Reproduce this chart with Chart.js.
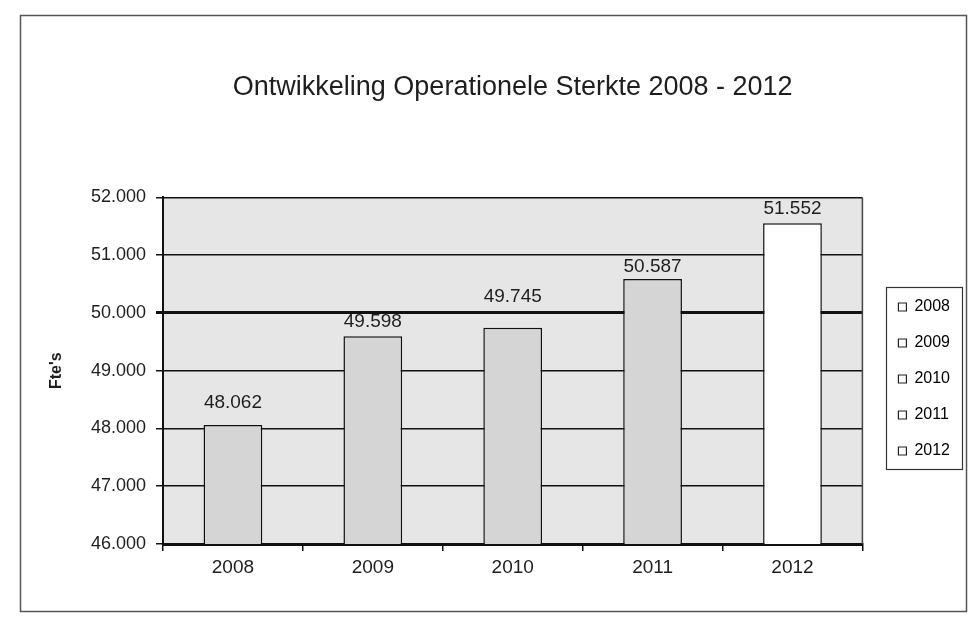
<!DOCTYPE html>
<html><head><meta charset="utf-8">
<script src="https://cdn.jsdelivr.net/npm/chart.js@4/dist/chart.umd.min.js"></script>
<style>html,body{margin:0;padding:0;background:#fff;}</style>
</head><body>
<canvas id="c" width="970" height="626"></canvas>
<script>
const categories = ['2008', '2009', '2010', '2011', '2012'];
const values = [48062, 49598, 49745, 50587, 51552];
const yTickValues = [46000, 47000, 48000, 49000, 50000, 51000, 52000];
const chartTitle = 'Ontwikkeling Operationele Sterkte 2008 - 2012';
const yTitle = "Fte's";

const barColors = ['#d5d5d5', '#d5d5d5', '#d5d5d5', '#d5d5d5', '#ffffff'];
const labelOffsets = [22, 14, 30, 12, 14];
const FONT = "'Liberation Sans', Arial, sans-serif";
const INK = '#1e1e1e';

function fmt(v) { return String(v).replace(/\B(?=(\d{3})+(?!\d))/g, '.'); }

const decor = {
  id: 'decor',
  afterLayout(chart) {
    const lg = chart.legend;
    if (lg) { lg.left += 16; lg.right += 16; lg.top += 69; lg.bottom += 69; }
  },
  beforeDraw(chart) {
    const ctx = chart.ctx, a = chart.chartArea;
    ctx.save();
    ctx.fillStyle = '#fff';
    ctx.fillRect(0, 0, chart.width, chart.height);
    ctx.strokeStyle = '#555';
    ctx.lineWidth = 1.5;
    ctx.strokeRect(20.5, 15.5, 946, 596);
    ctx.fillStyle = '#e6e6e6';
    ctx.fillRect(a.left, a.top, a.right - a.left, a.bottom - a.top);
    ctx.restore();
  },
  afterDatasetsDraw(chart) {
    const ctx = chart.ctx, meta = chart.getDatasetMeta(0);
    ctx.save();
    ctx.font = '19px ' + FONT;
    ctx.fillStyle = INK;
    ctx.textAlign = 'center';
    ctx.textBaseline = 'bottom';
    meta.data.forEach((bar, i) => {
      ctx.fillText(fmt(values[i]), bar.x, bar.y - labelOffsets[i] + 9);
    });
    ctx.restore();
  },
  afterDraw(chart) {
    const ctx = chart.ctx, a = chart.chartArea;
    ctx.save();
    ctx.strokeStyle = '#444';
    ctx.lineWidth = 1.5;
    ctx.beginPath();
    ctx.moveTo(a.right, a.top);
    ctx.lineTo(a.right, a.bottom);
    ctx.stroke();
    const lg = chart.legend;
    if (lg && lg.legendHitBoxes && lg.legendHitBoxes.length) {
      const hb = lg.legendHitBoxes;
      let l = Infinity, t = Infinity, r = -Infinity, b = -Infinity;
      hb.forEach(h => { l = Math.min(l, h.left); t = Math.min(t, h.top); r = Math.max(r, h.left + h.width); b = Math.max(b, h.top + h.height); });
      ctx.strokeStyle = '#333';
      ctx.lineWidth = 1.2;
      ctx.strokeRect(Math.round(l - 12) + 0.5, Math.round(t - 12) + 0.5, Math.round(r - l + 24), Math.round(b - t + 22));
    }
    ctx.restore();
  }
};

new Chart(document.getElementById('c'), {
  type: 'bar',
  data: {
    labels: categories,
    datasets: [{
      data: values,
      backgroundColor: barColors,
      borderColor: '#111',
      borderWidth: 1.5,
      borderSkipped: false,
      categoryPercentage: 1,
      barPercentage: 0.42
    }]
  },
  options: {
    responsive: false,
    animation: false,
    devicePixelRatio: 1,
    layout: { padding: { left: 40, right: 26, top: 20, bottom: 26 } },
    plugins: {
      tooltip: { enabled: false },
      title: {
        display: true,
        text: chartTitle,
        fullSize: false,
        color: INK,
        font: { family: FONT, size: 27, weight: 'normal' },
        padding: { top: 51, bottom: 94 }
      },
      legend: {
        display: true,
        position: 'right',
        onClick: null,
        labels: {
          color: INK,
          boxWidth: 8,
          boxHeight: 8,
          padding: 20,
          font: { family: FONT, size: 16 },
          generateLabels() {
            return categories.map((c, i) => ({
              text: c, fillStyle: '#fff', strokeStyle: '#222', lineWidth: 1.2, hidden: false, index: i, datasetIndex: 0
            }));
          }
        }
      }
    },
    scales: {
      x: {
        afterFit(s) { s.height = 56; },
        grid: { offset: true, drawOnChartArea: false, drawTicks: true, tickLength: 7, color: '#111', lineWidth: 1.5 },
        border: { display: true, color: '#111', width: 3 },
        ticks: { color: INK, font: { family: FONT, size: 19 }, padding: 5 }
      },
      y: {
        min: 46000,
        max: 52000,
        afterFit(s) { s.width = 123; },
        afterBuildTicks(s) { s.ticks = yTickValues.map(v => ({ value: v })); },
        grid: {
          color: '#111',
          lineWidth: c => (c.tick && c.tick.value === 50000 ? 3 : 1.5),
          drawTicks: true,
          tickLength: 7
        },
        border: { display: true, color: '#111', width: 2 },
        ticks: { color: INK, font: { family: FONT, size: 18 }, padding: 10, callback: v => fmt(v) },
        title: { display: true, text: yTitle, color: INK, font: { family: FONT, size: 16, weight: 'bold' }, padding: { top: 7 } }
      }
    }
  },
  plugins: [decor]
});
</script>
</body></html>
